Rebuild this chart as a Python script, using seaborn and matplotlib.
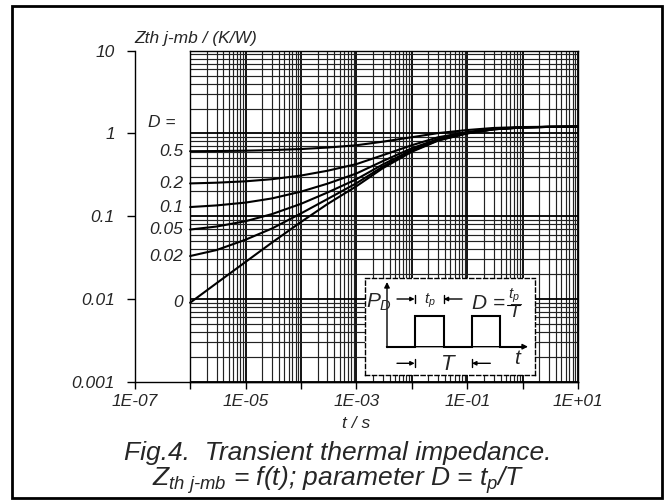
import matplotlib
matplotlib.use("Agg")
import matplotlib.pyplot as plt
import matplotlib.ticker as mticker
import numpy as np
import pandas as pd
import seaborn as sns

# ---------------- data ----------------
t_s = [1e-6, 3e-6, 1e-5, 3e-5, 1e-4, 3e-4, 1e-3, 3e-3, 1e-2, 3e-2, 1e-1, 3e-1, 1.0, 3.0, 10.0]
z_d05 = [0.61, 0.613, 0.619, 0.629, 0.648, 0.675, 0.72, 0.795, 0.90, 1.01, 1.10, 1.165, 1.195, 1.205, 1.21]
z_d02 = [0.249, 0.254, 0.264, 0.280, 0.31, 0.354, 0.426, 0.546, 0.72, 0.90, 1.04, 1.138, 1.186, 1.202, 1.21]
z_d01 = [0.129, 0.135, 0.146, 0.164, 0.198, 0.247, 0.328, 0.463, 0.661, 0.859, 1.021, 1.129, 1.183, 1.201, 1.21]
z_d005 = [0.069, 0.075, 0.087, 0.106, 0.141, 0.193, 0.279, 0.422, 0.631, 0.84, 1.01, 1.125, 1.182, 1.2, 1.21]
z_d002 = [0.033, 0.039, 0.052, 0.071, 0.108, 0.161, 0.25, 0.397, 0.612, 0.828, 1.004, 1.122, 1.181, 1.2, 1.21]
z_d0 = [0.009, 0.0155, 0.028, 0.048, 0.085, 0.14, 0.23, 0.38, 0.60, 0.82, 1.0, 1.12, 1.18, 1.2, 1.21]

d_labels = ["0.5", "0.2", "0.1", "0.05", "0.02", "0"]
series = [z_d05, z_d02, z_d01, z_d005, z_d002, z_d0]

y_ticks = [0.001, 0.01, 0.1, 1, 10]

# ---------------- style ----------------
sns.set_style("white")
plt.rcParams["font.family"] = ["Liberation Sans", "DejaVu Sans"]
plt.rcParams["font.style"] = "italic"
plt.rcParams["mathtext.fontset"] = "custom"
plt.rcParams["mathtext.it"] = "Liberation Sans:italic"
plt.rcParams["mathtext.rm"] = "Liberation Sans:italic"
plt.rcParams["mathtext.sf"] = "Liberation Sans:italic"

FS = 12.5

W, H = 665, 500
fig = plt.figure(figsize=(W / 100, H / 100), dpi=100)
fig.patch.set_facecolor("white")

def fx(px):
    return px / W

def fy(py):
    return 1 - py / H

# frame
fig.add_artist(plt.Rectangle((fx(12), fy(498)), fx(662) - fx(12), fy(6) - fy(498),
                             transform=fig.transFigure, fill=False, lw=2.0, ec="black"))

# main axes geometry (pixels)
ax_l, ax_r, ax_t, ax_b = 134.7, 578.0, 50.7, 381.7
left, right = fx(ax_l), fx(ax_r)
bottom, top = fy(ax_b), fy(ax_t)

# grid axes (only from 1E-06 to 1E+01)
gl = left + (right - left) / 8.0
gax = fig.add_axes([gl, bottom, right - gl, top - bottom], zorder=0)
gax.set_xscale("log")
gax.set_yscale("log")
gax.set_xlim(1e-6, 1e1)
gax.set_ylim(1e-3, 10)
gax.xaxis.set_major_locator(mticker.LogLocator(base=10, numticks=30))
gax.xaxis.set_minor_locator(mticker.LogLocator(base=10, subs=np.arange(2, 10), numticks=30))
gax.yaxis.set_major_locator(mticker.LogLocator(base=10, numticks=30))
gax.yaxis.set_minor_locator(mticker.LogLocator(base=10, subs=np.arange(2, 10), numticks=30))
gax.grid(which="major", color="black", lw=1.3)
gax.grid(which="minor", color="#222222", lw=0.85)
gax.tick_params(which="both", length=0, labelbottom=False, labelleft=False)
for s in gax.spines.values():
    s.set_color("black")
    s.set_linewidth(1.0)
gax.set_facecolor("white")

# main axes
ax = fig.add_axes([left, bottom, right - left, top - bottom], zorder=1)
ax.set_facecolor("none")
ax.set_xscale("log")
ax.set_yscale("log")

df = pd.concat([pd.DataFrame({"t": t_s, "Z": z, "D": lab}) for z, lab in zip(series, d_labels)],
               ignore_index=True)
sns.lineplot(data=df, x="t", y="Z", hue="D", hue_order=d_labels,
             palette=["black"] * len(d_labels), legend=False, lw=1.5, ax=ax,
             estimator=None, sort=True)

ax.set_xlim(1e-7, 1e1)
ax.set_ylim(1e-3, 10)
ax.set_xlabel("")
ax.set_ylabel("")
for side in ["top", "right"]:
    ax.spines[side].set_visible(False)
for side in ["left", "bottom"]:
    ax.spines[side].set_color("black")
    ax.spines[side].set_linewidth(1.0)

ax.xaxis.set_major_locator(mticker.LogLocator(base=10, numticks=30))
ax.xaxis.set_minor_locator(mticker.NullLocator())
ax.yaxis.set_major_locator(mticker.FixedLocator(y_ticks))
ax.yaxis.set_minor_locator(mticker.NullLocator())

def xfmt(v, pos):
    e = int(round(np.log10(v)))
    return f"1E{e:+03d}" if e % 2 != 0 else ""

ax.xaxis.set_major_formatter(mticker.FuncFormatter(xfmt))
ax.yaxis.set_major_formatter(mticker.FuncFormatter(lambda v, p: f"{v:g}"))
ax.tick_params(axis="x", direction="out", length=5, width=1, color="black",
               labelsize=FS, pad=4, bottom=True)
ax.tick_params(axis="y", direction="out", length=6, width=1, color="black",
               labelsize=FS, pad=8.4, left=True)

# curve labels
for z, lab in zip(series, d_labels):
    ax.annotate(lab, (t_s[0], z[0]), xytext=(-5, 0), textcoords="offset points",
                ha="right", va="center", fontsize=FS, style="italic")
ax.text(0.030, 0.7816, "D =", transform=ax.transAxes, ha="left", va="center",
        fontsize=FS, style="italic")

# axis titles
ax.text(0.0, 1 + (ax_t - 43) / (ax_b - ax_t), "Zth j-mb / (K/W)", transform=ax.transAxes,
        ha="left", va="baseline", fontsize=FS, style="italic")
fig.text(fx(356), fy(423), "t / s", ha="center", va="center", fontsize=FS, style="italic")

# caption
fig.text(fx(338), fy(460), "Fig.4.  Transient thermal impedance.", ha="center",
         va="baseline", fontsize=19, style="italic")
fig.text(fx(338), fy(486), r"$Z_{th\ j\text{-}mb}$ = f(t); parameter D = $t_p$/T",
         ha="center", va="baseline", fontsize=19, style="italic")

# inset diagram
bx0, bx1, by0, by1 = 364.7, 534.7, 278.0, 375.0
iax = fig.add_axes([fx(bx0), fy(by1), fx(bx1) - fx(bx0), fy(by0) - fy(by1)], zorder=3)
iax.set_xlim(bx0, bx1)
iax.set_ylim(by1, by0)
iax.set_facecolor("white")
iax.set_xticks([])
iax.set_yticks([])
for s in iax.spines.values():
    s.set_linestyle((0, (3, 2)))
    s.set_linewidth(1.0)
    s.set_color("black")

ak = dict(arrowstyle="-|>", lw=1.0, color="black", mutation_scale=8, shrinkA=0, shrinkB=0)
iax.annotate("", xy=(387, 282), xytext=(387, 347.5), arrowprops=ak)
iax.annotate("", xy=(528, 346.7), xytext=(386.5, 346.7), arrowprops=ak)
iax.plot([387, 415.3, 415.3, 443.7, 443.7, 472, 472, 500.3, 500.3, 524],
         [346.7, 346.7, 315.7, 315.7, 346.7, 346.7, 315.7, 315.7, 346.7, 346.7],
         color="black", lw=1.5, solid_joinstyle="miter")
ak2 = dict(arrowstyle="-|>", lw=1.0, color="black", mutation_scale=6, shrinkA=0, shrinkB=0)
for yy in (299, 363.3):
    iax.annotate("", xy=(414.7, yy), xytext=(397, yy), arrowprops=ak2)
    iax.plot([414.7, 414.7], [yy - 4, yy + 4], color="black", lw=1.0)
iax.annotate("", xy=(443.7, 299), xytext=(462, 299), arrowprops=ak2)
iax.plot([443.7, 443.7], [295, 303], color="black", lw=1.0)
iax.annotate("", xy=(472, 363.3), xytext=(490.3, 363.3), arrowprops=ak2)
iax.plot([472, 472], [359.3, 367.3], color="black", lw=1.0)

iax.text(379.5, 302.5, r"$P_D$", ha="center", va="center", fontsize=15)
iax.text(429.5, 300.5, r"$t_p$", ha="center", va="center", fontsize=11)
iax.text(488.5, 303.7, "D =", ha="center", va="center", fontsize=15, style="italic")
iax.text(513.5, 296, r"$t_p$", ha="center", va="center", fontsize=11)
iax.plot([507, 520], [304.5, 304.5], color="black", lw=0.8)
iax.text(514, 312.5, "T", ha="center", va="center", fontsize=14, style="italic")
iax.text(447.5, 364.5, "T", ha="center", va="center", fontsize=16, style="italic")
iax.text(516.5, 358, "t", ha="center", va="center", fontsize=15, style="italic")

fig.savefig("out.png", dpi=100, facecolor="white")
